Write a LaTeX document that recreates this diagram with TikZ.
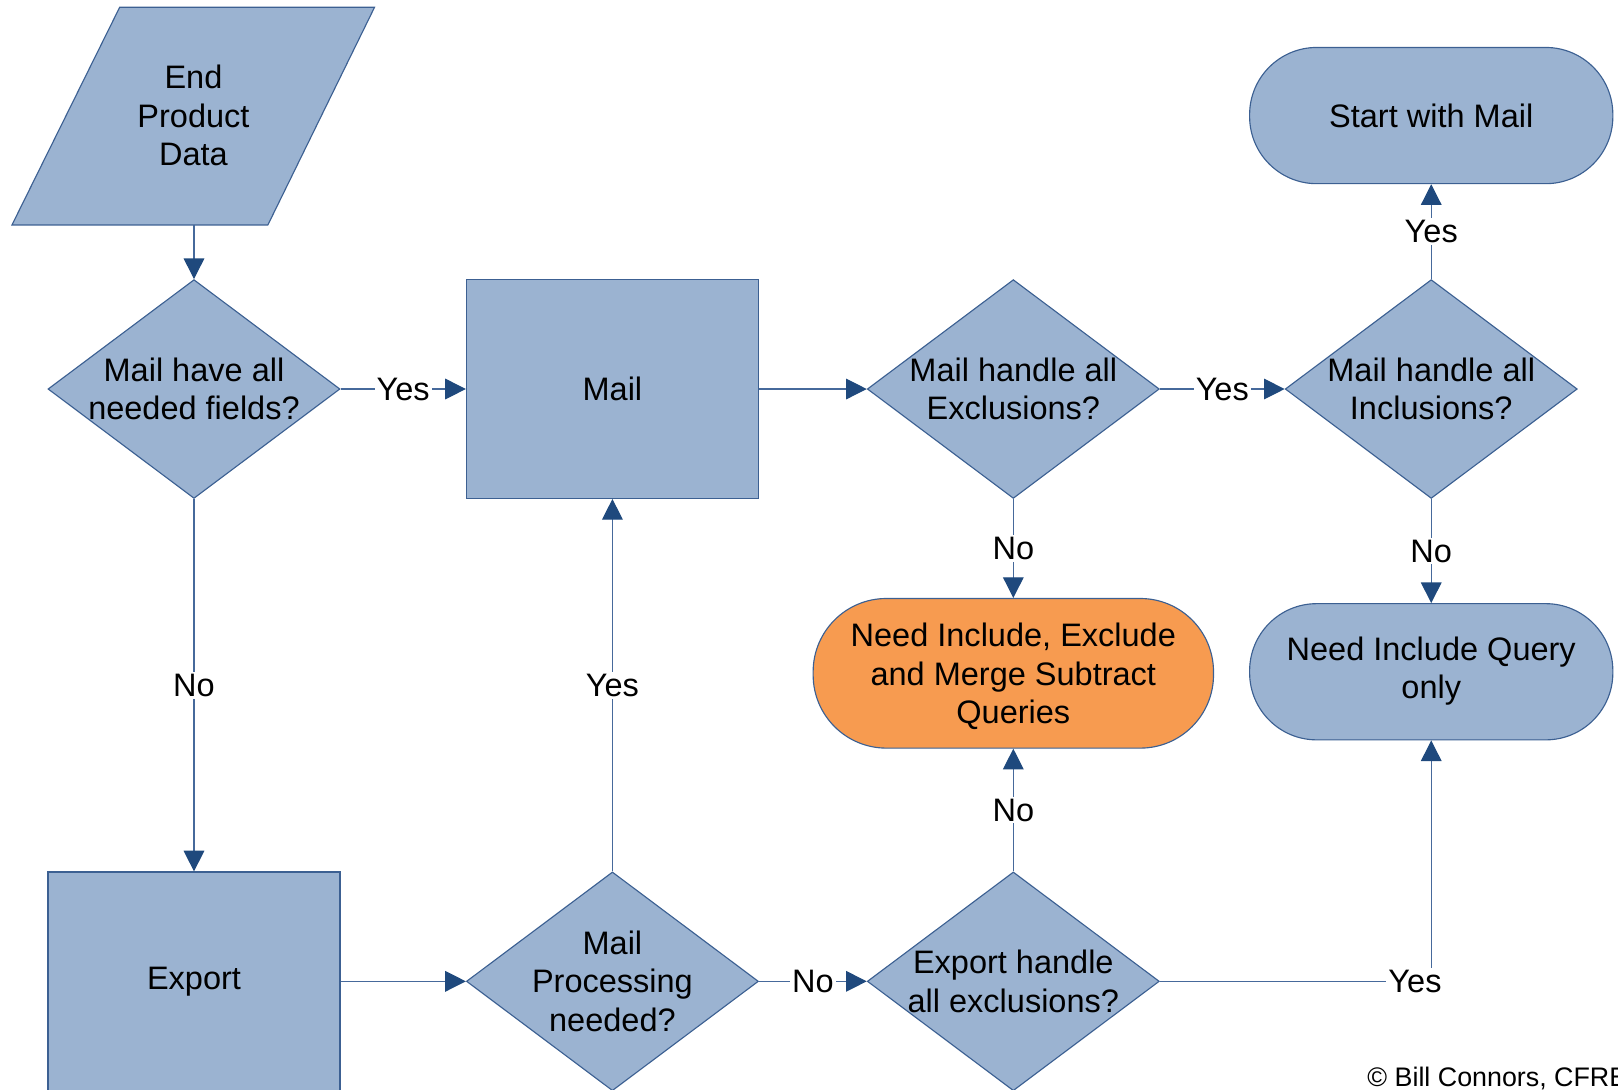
\documentclass[tikz,border=0pt]{standalone}
\usepackage{fontspec}
\setmainfont{Liberation Sans}
\usetikzlibrary{shapes.geometric,arrows.meta}
\definecolor{boxfill}{RGB}{155,179,209}
\definecolor{boxline}{RGB}{60,96,146}
\definecolor{conline}{RGB}{70,105,155}
\definecolor{arrowc}{RGB}{31,73,125}
\definecolor{orangefill}{RGB}{247,155,80}
\begin{document}
\begin{tikzpicture}[x=1pt,y=-1pt,
  shp/.style={draw=boxline, fill=boxfill, line width=1.1pt, inner sep=0pt},
  txt/.style={font=\fontsize{31.5}{37.5}\selectfont, align=center, text=black},
  proc/.style={shp, rectangle, minimum width=283pt, minimum height=212pt, txt},
  dia/.style={shp, diamond, minimum width=283pt, minimum height=212pt},
  term/.style={shp, rectangle, rounded corners=65pt, minimum width=352pt, minimum height=132pt, txt},
  conn/.style={draw=conline, line width=1.1pt, -{Triangle[length=20pt,width=20pt,color=arrowc]}},
  lbl/.style={fill=white, inner sep=2pt, font=\fontsize{31.5}{37.5}\selectfont, text=black},
]
\useasboundingbox (0,0) rectangle (1568,1056);

% input parallelogram
\path[shp] (116,7) -- (363,7) -- (259.6,218) -- (11.6,218) -- cycle;
\node[txt] (epd) at (187.5,112) {End\\Product\\Data};
\coordinate (epdb) at (188,218);

% shapes
\node[dia, label={[txt]center:{Mail have all\\needed fields?}}] (d1) at (188,377) {};
\node[proc] (mail) at (593.5,377) {Mail};
\node[dia, label={[txt]center:{Mail handle all\\Exclusions?}}] (d2) at (982,377) {};
\node[dia, label={[txt]center:{Mail handle all\\Inclusions?}}] (d3) at (1387,377) {};
\node[term] (start) at (1387,112) {Start with Mail};
\node[term, fill=orangefill, minimum width=388pt, minimum height=145pt, rounded corners=71pt, text depth=0pt, yshift=-2pt] (need) at (982,650.5) {Need Include, Exclude\\and Merge Subtract\\Queries};
\node[term] (ni) at (1387,651) {\raisebox{-2pt}{\begin{tabular}{@{}c@{}}Need Include Query\\only\end{tabular}}};
\node[proc] (export) at (188,951) {Export};
\node[dia, label={[txt]center:{Mail\\Processing\\needed?}}] (d4) at (593.5,951) {};
\node[dia, label={[txt]center:{Export handle\\all exclusions?}}] (d5) at (982,951) {};

% connectors
\draw[conn] (epdb) -- (d1.north);
\draw[conn] (d1.east) -- node[lbl]{Yes} (mail.west);
\draw[conn] (d1.south) -- node[lbl]{No} (export.north);
\draw[conn] (mail.east) -- (d2.west);
\draw[conn] (d2.east) -- node[lbl]{Yes} (d3.west);
\draw[conn] (d3.north) -- node[lbl]{Yes} (start.south);
\draw[conn] (d3.south) -- node[lbl]{No} (ni.north);
\draw[conn] (d2.south) -- node[lbl]{No} (need.north);
\draw[conn] (export.east) -- (d4.west);
\draw[conn] (d4.north) -- node[lbl]{Yes} (mail.south);
\draw[conn] (d4.east) -- node[lbl]{No} (d5.west);
\draw[conn] (d5.north) -- node[lbl]{No} (need.south);
\draw[conn] (d5.east) -| node[lbl, pos=0.47]{Yes} (ni.south);

\node[anchor=base west, font=\fontsize{26}{30}\selectfont, inner sep=0pt] (copy) at (1325,1053) {© Bill Connors, CFRE};
\end{tikzpicture}
\end{document}
